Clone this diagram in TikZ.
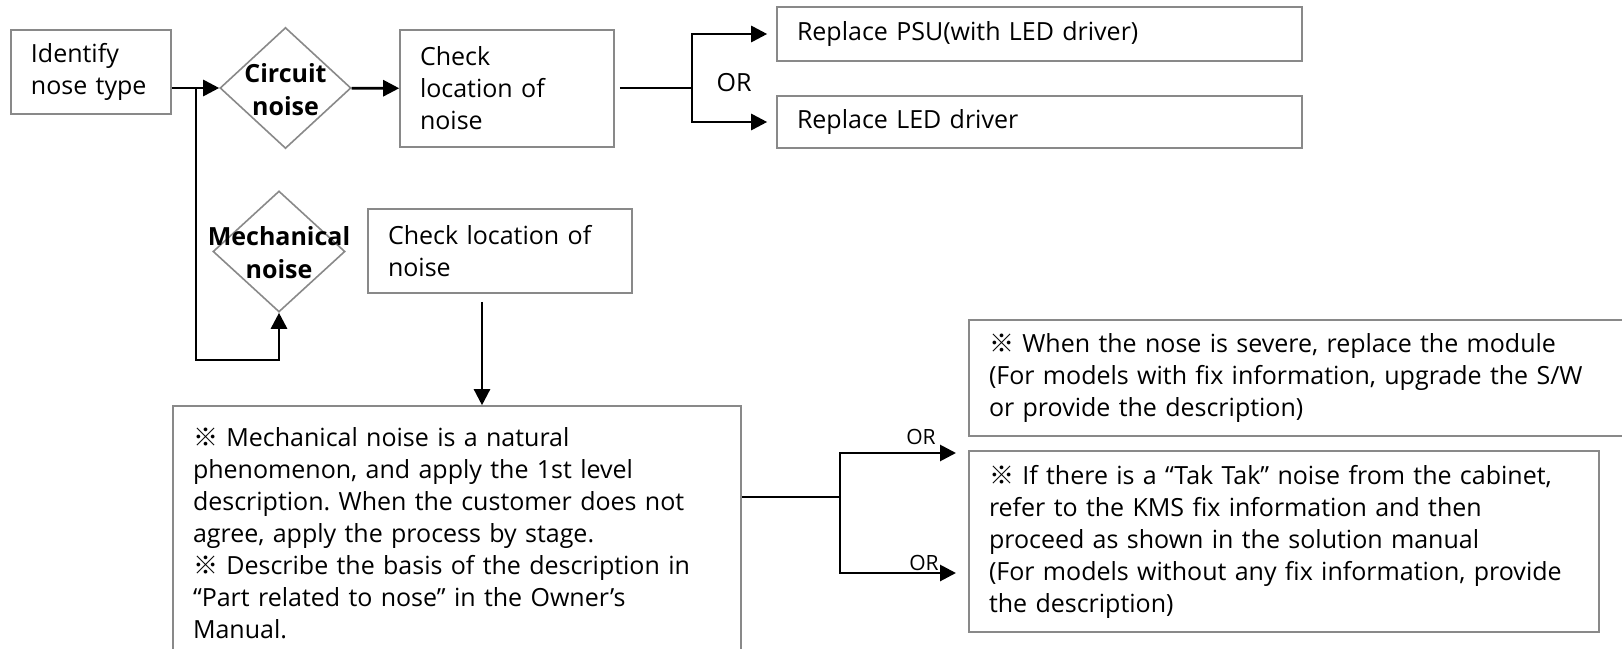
\documentclass[tikz,border=0pt]{standalone}
\usepackage{fontspec}
\setmainfont{Open Sans}
\newfontfamily\refmarkfont{Noto Sans CJK KR}
\newcommand{\refmark}{{\refmarkfont ※}}
\usetikzlibrary{shapes.geometric,arrows.meta,positioning,calc}
\definecolor{boxgray}{RGB}{137,137,137}
\frenchspacing

\begin{document}
\begin{tikzpicture}[x=1pt, y=1pt,
    box/.style={rectangle, draw=boxgray, line width=0.8pt, inner xsep=10pt, inner ysep=0pt,
                align=left, font=\fontsize{12.5}{16}\selectfont},
    decision/.style={diamond, draw=boxgray, line width=0.8pt, inner sep=0pt},
    dtext/.style={align=center, font=\fontsize{12.5}{16.5}\selectfont\bfseries},
    arr/.style={-{Triangle[length=8pt, width=8pt]}, line width=1.4pt},
    link/.style={line width=1.4pt},
    orlabel/.style={font=\fontsize{12.5}{15}\selectfont},
    orsmall/.style={font=\fontsize{10.5}{12}\selectfont, inner sep=0pt}
]
\useasboundingbox (0,0) rectangle (811,-324);

% noise type
\node[box, text width=60pt, minimum height=42pt]   (identify) at (45.5,-36)   {Identify\\nose type};
\node[decision, minimum width=65.5pt, minimum height=60.5pt] (circuit) at (142.75,-44) {};
\node[dtext]                                       (circuittxt) at (142.75,-45) {Circuit\\noise};
\node[decision, minimum width=66pt, minimum height=60.5pt]   (mech)    at (139.5,-125.75) {};
\node[dtext]                                       (mechtxt) at (139.5,-126.5) {Mechanical\\noise};

% circuit branch
\node[box, text width=87pt, minimum height=58.5pt] (check1)   at (253.5,-44.25) {Check\\location of\\noise};
\node[box, text width=242.5pt, minimum height=27pt] (psu)     at (519.75,-17)   {Replace PSU(with LED driver)};
\node[box, text width=242.5pt, minimum height=26pt] (led)     at (519.75,-61)   {Replace LED driver};
\node[orlabel]                                     (or1)      at (367,-41.5)    {OR};

% mechanical branch
\node[box, text width=112pt, minimum height=42pt]  (check2)   at (250,-125.5)   {Check location of\\noise};
\node[box, text width=264pt, minimum height=127pt] (bigbox)   at (228.5,-266.5) {\refmark\ Mechanical noise is a natural\\phenomenon, and apply the 1st level\\description. When the customer does not\\agree, apply the process by stage.\\\refmark\ Describe the basis of the description in\\“Part related to nose” in the Owner’s\\Manual.};
\node[box, text width=310.5pt, minimum height=58pt] (severe)  at (649.75,-189)  {\refmark\ When the nose is severe, replace the module\\(For models with fix information, upgrade the S/W\\or provide the description)};
\node[box, text width=295pt, minimum height=90.5pt] (taktak)  at (642,-270.75)  {\refmark\ If there is a “Tak Tak” noise from the cabinet,\\refer to the KMS fix information and then\\proceed as shown in the solution manual\\(For models without any fix information, provide\\the description)};
\node[orsmall]                                     (or2)      at (460.5,-218.5) {OR};
\node[orsmall]                                     (or3)      at (462,-281.5)   {OR};

\coordinate (split)    at (98,-44);
\coordinate (mechfoot) at (139.5,-180);
\coordinate (fork1)    at (346,-44);
\coordinate (fork2)    at (420,-248.5);
\coordinate (orup)     at (478,-226.5);
\coordinate (orlow)    at (478,-286.5);

\draw[arr] (identify.east |- circuit.west) -- (circuit.west);
\draw[arr] (split) |- (mechfoot) -- (mech.south);
\draw[arr] (circuit) -- (check1);
\draw[link, shorten <=2.5pt] (check1.east |- fork1) -- (fork1);
\draw[arr, shorten >=4.5pt] (fork1) |- (psu.west);
\draw[arr, shorten >=4.5pt] (fork1) |- (led.west);
\draw[arr, line width=1.2pt, shorten <=4pt] ([xshift=-9pt]check2.south) -- ([xshift=-9pt]check2.south |- bigbox.north);
\draw[line width=0.7pt] (bigbox.east |- fork2) -- (fork2);
\draw[arr] (fork2) |- (orup);
\draw[arr] (fork2) |- (orlow);
\end{tikzpicture}
\end{document}
